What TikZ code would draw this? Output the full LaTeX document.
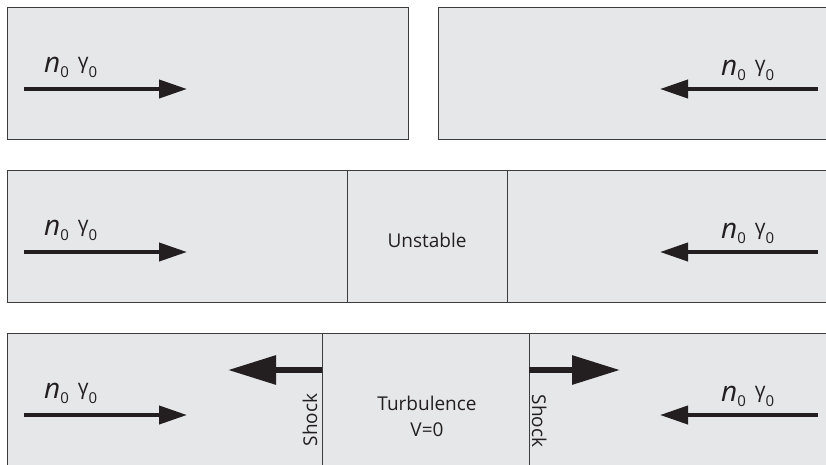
\documentclass[tikz,border=0pt]{standalone}
\usepackage{fontspec}
\setmainfont{Open Sans}
\usetikzlibrary{arrows.meta}
\definecolor{boxgray}{HTML}{E6E7E8}
\definecolor{edgegray}{HTML}{3C3C3C}
\definecolor{inkblack}{HTML}{231F20}
\newcommand{\ngam}{{\fontsize{28}{28}\selectfont\itshape n}\raisebox{-5pt}{\fontsize{15}{15}\selectfont 0}\hspace{9pt}\raisebox{4pt}{\fontsize{21}{21}\selectfont γ}\raisebox{-5pt}{\fontsize{15}{15}\selectfont 0}}
\begin{document}
\begin{tikzpicture}[x=1pt,y=-1pt,
    box/.style={draw=edgegray,fill=boxgray,line width=0.8pt},
    flow/.style={draw=inkblack,line width=4pt,-{Triangle[length=28pt,width=18pt]}},
    shockflow/.style={draw=inkblack,line width=6pt,-{Triangle[length=48pt,width=28pt]}},
    lbl/.style={inner sep=0pt,text=inkblack,font=\fontsize{19}{26}\selectfont}]
    \useasboundingbox (0,0) rectangle (826,464);
    % boxes
    \draw[box] (7,7) rectangle (408,139);
    \draw[box] (438,7) rectangle (840,139);
    \draw[box] (7,170) rectangle (840,302);
    \draw[box] (7,333) rectangle (840,480);
    \draw[edgegray,line width=0.8pt] (347,170) -- (347,302);
    \draw[edgegray,line width=0.8pt] (507,170) -- (507,302);
    \draw[edgegray,line width=0.8pt] (322,333) -- (322,480);
    \draw[edgegray,line width=0.8pt] (529,333) -- (529,480);
    % labels
    \node[lbl,anchor=base west] (la) at (44,72) {\ngam};
    \node[lbl,anchor=base west] (ra) at (721,75) {\ngam};
    \node[lbl,anchor=base west] (lb) at (44,235) {\ngam};
    \node[lbl,anchor=base west] (rb) at (721,238) {\ngam};
    \node[lbl,anchor=base west] (lc) at (44,398) {\ngam};
    \node[lbl,anchor=base west] (rc) at (721,401) {\ngam};
    \node[lbl,anchor=base] (unstable) at (427,247) {Unstable};
    \node[lbl,align=center] (turb) at (427,416) {Turbulence\\V=0};
    \node[lbl,rotate=90,anchor=base] (shockl) at (317,420) {Shock};
    \node[lbl,rotate=-90,anchor=base] (shockr) at (532,421) {Shock};
    % arrows
    \coordinate (la1) at (24,89);  \coordinate (la2) at (187,89);
    \coordinate (ra1) at (818,89); \coordinate (ra2) at (660,89);
    \coordinate (lb1) at (24,252);  \coordinate (lb2) at (187,252);
    \coordinate (rb1) at (818,252); \coordinate (rb2) at (660,252);
    \coordinate (lc1) at (24,415);  \coordinate (lc2) at (187,415);
    \coordinate (rc1) at (818,415); \coordinate (rc2) at (660,415);
    \coordinate (sl1) at (322,370); \coordinate (sl2) at (228,370);
    \coordinate (sr1) at (529,370); \coordinate (sr2) at (620,370);
    \draw[flow] (la1) -- (la2);
    \draw[flow] (ra1) -- (ra2);
    \draw[flow] (lb1) -- (lb2);
    \draw[flow] (rb1) -- (rb2);
    \draw[flow] (lc1) -- (lc2);
    \draw[flow] (rc1) -- (rc2);
    \draw[shockflow] (sl1) -- (sl2);
    \draw[shockflow] (sr1) -- (sr2);
\end{tikzpicture}
\end{document}
